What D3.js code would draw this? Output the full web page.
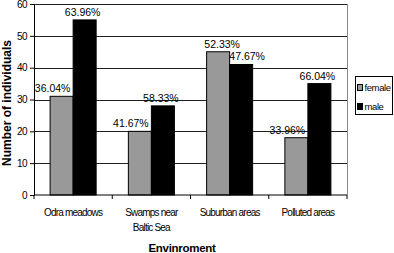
<!DOCTYPE html>
<html>
<head>
<meta charset="utf-8">
<script src="https://cdn.jsdelivr.net/npm/d3@7"></script>
<style>
  html, body { margin: 0; padding: 0; background: #fff; }
  svg { display: block; font-family: "Liberation Sans", Arial, sans-serif; }
  .axis text { font-size: 10px; fill: #000; }
  .axis .domain, .axis line { stroke: #000; }
</style>
</head>
<body>
<div id="chart"></div>
<script>
// chart data
var categories = [["Odra meadows"], ["Swamps near", "Baltic Sea"], ["Suburban areas"], ["Polluted areas"]];
var seriesNames = ["female", "male"];
var female = [31, 20, 45, 18];
var male = [55, 28, 41, 35];
var femaleLabels = ["36.04%", "41.67%", "52.33%", "33.96%"];
var maleLabels = ["63.96%", "58.33%", "47.67%", "66.04%"];
var yTicks = [0, 10, 20, 30, 40, 50, 60];

var width = 394, height = 253;
var margin = {left: 34, top: 4, right: 47, bottom: 58};
var colors = {female: "#999999", male: "#000000"};

var svg = d3.select("#chart").append("svg")
    .attr("width", width)
    .attr("height", height);

var x = d3.scaleBand()
    .domain(d3.range(categories.length))
    .range([margin.left, width - margin.right])
    .paddingInner(0)
    .paddingOuter(0);

var y = d3.scaleLinear()
    .domain([0, 60])
    .range([height - margin.bottom, margin.top]);

var inner = d3.scaleBand()
    .domain(seriesNames)
    .range([0, x.bandwidth()])
    .paddingInner(0)
    .paddingOuter(0.7);

// gridlines
svg.append("g")
    .selectAll("line")
    .data(yTicks.slice(1))
    .join("line")
    .attr("x1", margin.left)
    .attr("x2", width - margin.right)
    .attr("y1", function(d) { return Math.round(y(d)) + 0.5; })
    .attr("y2", function(d) { return Math.round(y(d)) + 0.5; })
    .attr("stroke", "#222")
    .attr("stroke-width", 1);

// right border
svg.append("line")
    .attr("x1", width - margin.right + 0.5)
    .attr("x2", width - margin.right + 0.5)
    .attr("y1", y(60))
    .attr("y2", y(0))
    .attr("stroke", "#888");

var data = categories.map(function(c, i) {
    return [
        {key: "female", cat: i, value: female[i], label: femaleLabels[i]},
        {key: "male", cat: i, value: male[i], label: maleLabels[i]}
    ];
});

var groups = svg.append("g")
    .selectAll("g")
    .data(data)
    .join("g")
    .attr("transform", function(d, i) { return "translate(" + x(i) + ",0)"; });

groups.selectAll("rect")
    .data(function(d) { return d; })
    .join("rect")
    .attr("x", function(d) { return inner(d.key); })
    .attr("y", function(d) { return y(d.value); })
    .attr("width", inner.bandwidth())
    .attr("height", function(d) { return y(0) - y(d.value); })
    .attr("fill", function(d) { return colors[d.key]; })
    .attr("stroke", "#000")
    .attr("stroke-width", 1);

groups.selectAll("text")
    .data(function(d) { return d; })
    .join("text")
    .attr("x", function(d) {
        var off = d.key === "female" ? -9 : -2;
        if (d.cat === 2) off = d.key === "female" ? 4 : 6;
        return inner(d.key) + inner.bandwidth() / 2 + off;
    })
    .attr("y", function(d) { return y(d.value) - 4; })
    .attr("text-anchor", "middle")
    .attr("font-size", "10.5px")
    .text(function(d) { return d.label; });

// y axis
svg.append("g")
    .attr("class", "axis")
    .attr("transform", "translate(" + margin.left + ",0)")
    .call(d3.axisLeft(y).tickValues(yTicks).tickSize(4).tickPadding(3))
    .selectAll("text")
    .attr("letter-spacing", "-0.5px");

// x axis with ticks at category boundaries
var xAxis = svg.append("g")
    .attr("class", "axis")
    .attr("transform", "translate(0," + y(0) + ")");
xAxis.append("line")
    .attr("x1", margin.left)
    .attr("x2", width - margin.right)
    .attr("stroke", "#000");
xAxis.selectAll(".tk")
    .data(d3.range(categories.length + 1))
    .join("line")
    .attr("class", "tk")
    .attr("x1", function(i) { return margin.left + i * x.bandwidth(); })
    .attr("x2", function(i) { return margin.left + i * x.bandwidth(); })
    .attr("y1", 0)
    .attr("y2", 4)
    .attr("stroke", "#000");
xAxis.selectAll(".lbl")
    .data(categories)
    .join("text")
    .attr("class", "lbl")
    .attr("x", function(d, i) { return x(i) + x.bandwidth() / 2; })
    .attr("y", 21)
    .attr("text-anchor", "middle")
    .attr("letter-spacing", "-0.8px")
    .each(function(d) {
        var t = d3.select(this);
        d.forEach(function(line, j) {
            t.append("tspan")
                .attr("x", t.attr("x"))
                .attr("dy", j === 0 ? 0 : 15)
                .text(line);
        });
    });

// axis titles
svg.append("text")
    .attr("transform", "translate(11,103) rotate(-90)")
    .attr("text-anchor", "middle")
    .attr("font-size", "12px")
    .attr("font-weight", "bold")
    .text("Number of individuals");

svg.append("text")
    .attr("x", 182)
    .attr("y", 252)
    .attr("text-anchor", "middle")
    .attr("font-size", "11.5px")
    .attr("font-weight", "bold")
    .attr("letter-spacing", "-0.3px")
    .text("Envinroment");

// legend
var legend = svg.append("g")
    .attr("transform", "translate(355.5,76.5)");
legend.append("rect")
    .attr("width", 37)
    .attr("height", 38)
    .attr("fill", "#fff")
    .attr("stroke", "#000");
legend.selectAll("g")
    .data(seriesNames)
    .join("g")
    .attr("transform", function(d, i) { return "translate(2," + (11 + i * 19) + ")"; })
    .each(function(d) {
        var g = d3.select(this);
        g.append("rect")
            .attr("x", 0)
            .attr("y", -3)
            .attr("width", 5)
            .attr("height", 6)
            .attr("fill", colors[d])
            .attr("stroke", "#000");
        g.append("text")
            .attr("x", 7)
            .attr("y", 3.5)
            .attr("font-size", "9.5px")
            .attr("letter-spacing", "-0.4px")
            .text(d);
    });
</script>
</body>
</html>
